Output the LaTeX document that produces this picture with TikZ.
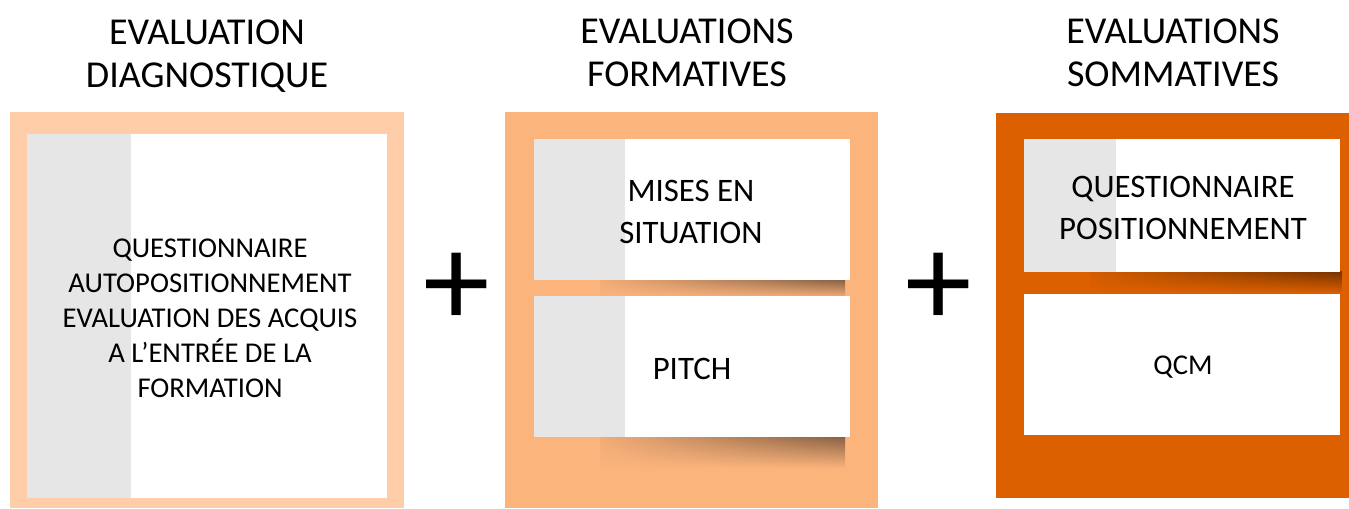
\documentclass[tikz,border=0pt]{standalone}
\usepackage{fontspec}
\setmainfont{Carlito}
\usetikzlibrary{fadings}
\definecolor{peachA}{RGB}{255,206,168}
\definecolor{peachB}{RGB}{252,180,125}
\definecolor{rust}{RGB}{221,96,0}
\definecolor{strip}{RGB}{230,230,230}
\pgfdeclarehorizontalshading{shadeB}{100bp}{color(0bp)=(peachB); color(20bp)=(peachB); color(80bp)=(black!50!peachB); color(90bp)=(black!45!peachB); color(100bp)=(peachB)}
\pgfdeclarehorizontalshading{shadeR}{100bp}{color(0bp)=(rust); color(20bp)=(rust); color(80bp)=(black!50!rust); color(90bp)=(black!45!rust); color(100bp)=(rust)}
\tikzset{
  title/.style={align=center, font=\fontsize{28.5}{32.5}\selectfont},
  label/.style={align=center, font=\fontsize{24.6}{31}\selectfont},
  small/.style={align=center, font=\fontsize{21.5}{26.3}\selectfont},
  card/.style={fill=white},
  plus/.style={font=\fontsize{100}{100}\selectfont, inner sep=0pt}
}
\begin{document}
\begin{tikzpicture}[x=0.75pt, y=-0.75pt]
\useasboundingbox[fill=white] (0,0) rectangle (1349,509);
\fill [peachA] (10,112) rectangle (404,508);
\fill [peachB] (505,112) rectangle (878,508);
\fill [rust] (996,113) rectangle (1349,498);
\shade [shading=shadeB, path fading=south] (600,280) rectangle (845,298);
\shade [shading=shadeB, path fading=south] (600,437) rectangle (845,468);
\shade [shading=shadeR, path fading=south] (1090,272) rectangle (1342,293);
\fill [card] (27,134) rectangle (387,498);
\fill [strip] (27,134) rectangle (131,498);
\fill [card] (534,139) rectangle (850,280);
\fill [strip] (534,139) rectangle (625,280);
\fill [card] (534,296) rectangle (850,437);
\fill [strip] (534,296) rectangle (625,437);
\fill [card] (1024,139) rectangle (1340,272);
\fill [strip] (1024,139) rectangle (1116,272);
\fill [card] (1024,294) rectangle (1340,435);
\node [title] (diag) at (207,56) {EVALUATION\\DIAGNOSTIQUE};
\node [title] (form) at (687,53) {EVALUATIONS\\FORMATIVES};
\node [title] (somm) at (1173,53) {EVALUATIONS\\SOMMATIVES};
\node [small] (acquis) at (210,318) {QUESTIONNAIRE\\AUTOPOSITIONNEMENT\\EVALUATION DES ACQUIS\\A L’ENTRÉE DE LA\\FORMATION};
\node [label] (mises) at (691,212) {MISES EN\\SITUATION};
\node [label] (pitch) at (692,369) {PITCH};
\node [label] (quest) at (1183,208) {QUESTIONNAIRE\\POSITIONNEMENT};
\node [small] (qcm) at (1183,367) {QCM};
\node [plus] (plusA) at (456.5,290) {+};
\node [plus] (plusB) at (938.5,290) {+};
\end{tikzpicture}
\end{document}
